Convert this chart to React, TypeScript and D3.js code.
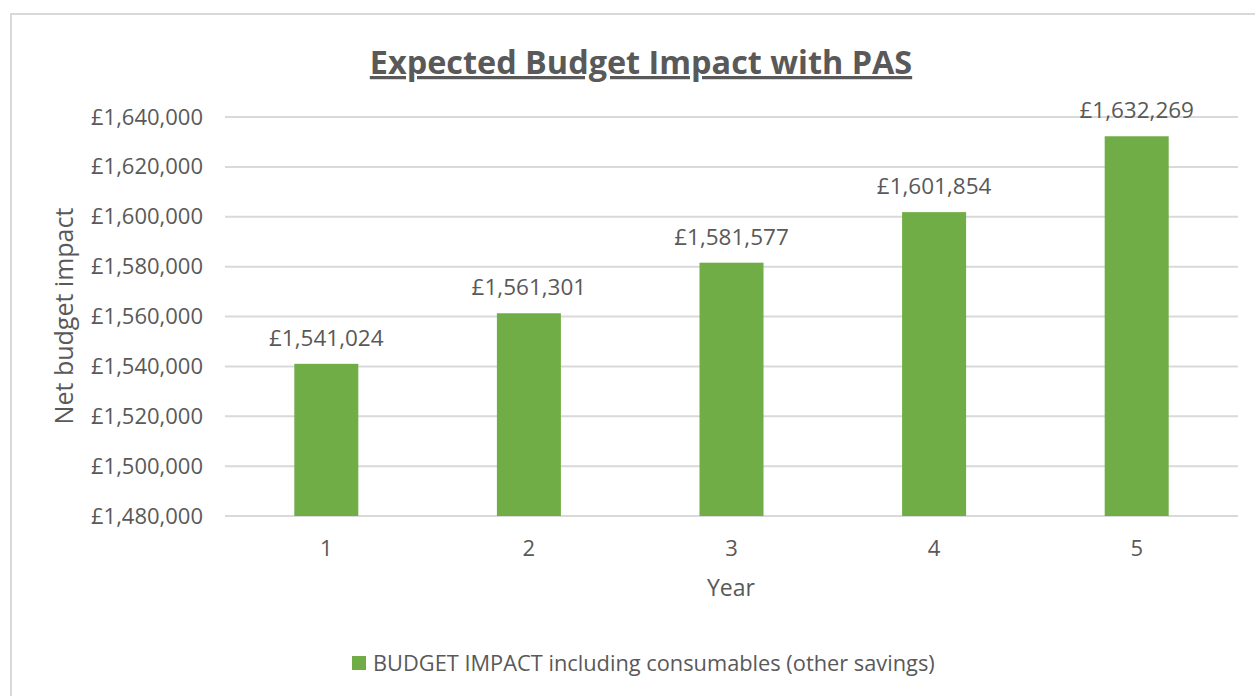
import React from "react";
import * as d3 from "d3";

const years = ["1", "2", "3", "4", "5"];
const budgetImpact = [1541024, 1561301, 1581577, 1601854, 1632269];
const yTicks = [1480000, 1500000, 1520000, 1540000, 1560000, 1580000, 1600000, 1620000, 1640000];
const seriesName = "BUDGET IMPACT including consumables (other savings)";
const chartTitle = "Expected Budget Impact with PAS";

const W = 1255;
const H = 696;
const FONT = "'Open Sans', 'Noto Sans', sans-serif";
const TEXT = "#595959";
const GREEN = "#70AD47";
const GRID = "#D9D9D9";

export default function App() {
  const plot = { left: 225, right: 1238, top: 117, bottom: 516 };
  const x = d3.scaleBand<string>().domain(years).range([plot.left, plot.right]).paddingInner(0.684).paddingOuter(0.342);
  const y = d3.scaleLinear().domain([1480000, 1640000]).range([plot.bottom, plot.top]);
  const fmt = (v: number) => "£" + d3.format(",")(v);

  return (
    <div style={{ position: "fixed", left: 0, top: 0, width: W, height: H, background: "#fff" }}>
      <svg width={W} height={H} style={{ display: "block" }} fontFamily={FONT}>
        <rect x={11} y={14} width={W} height={H} fill="#fff" stroke={GRID} strokeWidth={2} />
        <text x={641} y={74} textAnchor="middle" fontSize={32.4} fontWeight="bold" fill={TEXT} textDecoration="underline">
          {chartTitle}
        </text>
        {yTicks.map((t) => (
          <g key={t}>
            <line x1={plot.left} x2={plot.right} y1={y(t)} y2={y(t)} stroke={GRID} strokeWidth={2} />
            <text x={203} y={y(t) + 7.5} textAnchor="end" fontSize={22} fill={TEXT}>
              {fmt(t)}
            </text>
          </g>
        ))}
        {years.map((c, i) => (
          <g key={c}>
            <rect x={x(c)} y={y(budgetImpact[i])} width={x.bandwidth()} height={y(1480000) - y(budgetImpact[i])} fill={GREEN} />
            <text x={(x(c) as number) + x.bandwidth() / 2} y={y(budgetImpact[i]) - 18} textAnchor="middle" fontSize={22.5} fill={TEXT}>
              {fmt(budgetImpact[i])}
            </text>
            <text x={(x(c) as number) + x.bandwidth() / 2} y={556} textAnchor="middle" fontSize={22} fill={TEXT}>
              {c}
            </text>
          </g>
        ))}
        <text x={731} y={596} textAnchor="middle" fontSize={23} fill={TEXT}>Year</text>
        <text transform={`translate(73,316) rotate(-90)`} textAnchor="middle" fontSize={25} fill={TEXT}>Net budget impact</text>
        <rect x={352} y={656} width={14} height={14} fill={GREEN} />
        <text x={373} y={671} fontSize={21.8} fill={TEXT}>{seriesName}</text>
      </svg>
    </div>
  );
}
